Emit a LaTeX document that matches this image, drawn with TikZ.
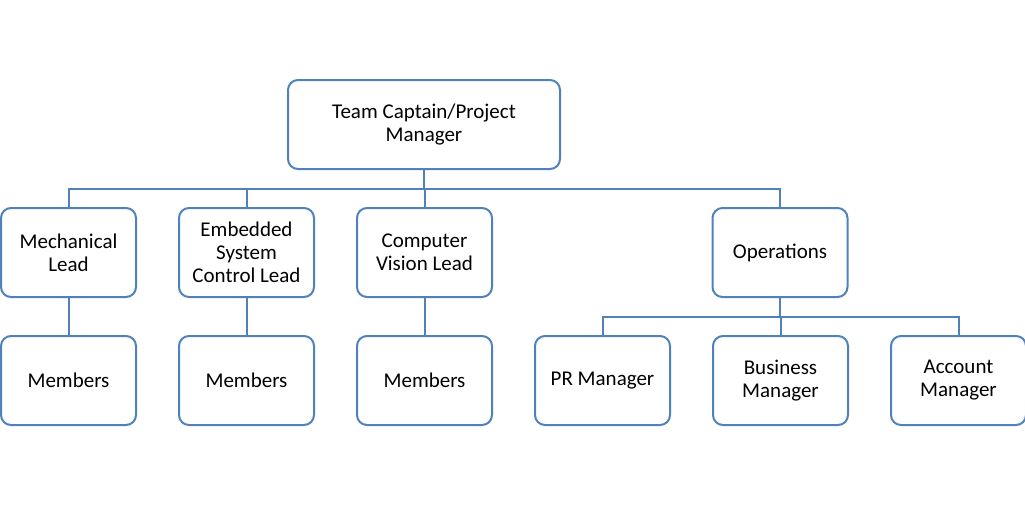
\documentclass[tikz,border=0pt]{standalone}
\usepackage{fontspec}
\setmainfont{Carlito}
\usetikzlibrary{positioning}
\definecolor{boxblue}{HTML}{4F81BD}

\begin{document}
\begin{tikzpicture}[x=1pt,y=-1pt,font=\fontsize{21}{23}\selectfont,node distance=37pt and 41pt,
    box/.style={draw=boxblue,fill=white,line width=2pt,rounded corners=10pt,align=center,
                minimum width=135pt,minimum height=89pt,inner sep=2pt},
    link/.style={boxblue,line width=2pt}]
  \useasboundingbox (0,0) rectangle (1025,504);
  % top of the tree
  \node[box,minimum width=272pt] (tc) at (424,124.5) {Team Captain/Project\\Manager};
  % leads
  \node[box] (ml) at (68.5,252.5) {Mechanical\\Lead};
  \node[box,right=of ml] (es) {Embedded\\System\\Control Lead};
  \node[box,right=of es] (cv) {Computer\\Vision Lead};
  \node[box] (op) at (780,252.5) {Operations};
  % members and managers
  \node[box,below=of ml] (m1) {Members};
  \node[box,below=of es] (m2) {Members};
  \node[box,below=of cv] (m3) {Members};
  \node[box,right=of m3] (pr) {PR Manager};
  \node[box,right=of pr] (bm) {Business\\Manager};
  \node[box,right=of bm] (am) {Account\\Manager};
  % connectors
  \foreach \c in {ml,es,cv,op}
    \draw[link] (tc.south) -- ++(0,18.5) -| (\c.north);
  \draw[link] (ml) -- (m1);
  \draw[link] (es) -- (m2);
  \draw[link] (cv) -- (m3);
  \foreach \c in {pr,bm,am}
    \draw[link] (op.south) -- ++(0,18.5) -| (\c.north);
\end{tikzpicture}
\end{document}
